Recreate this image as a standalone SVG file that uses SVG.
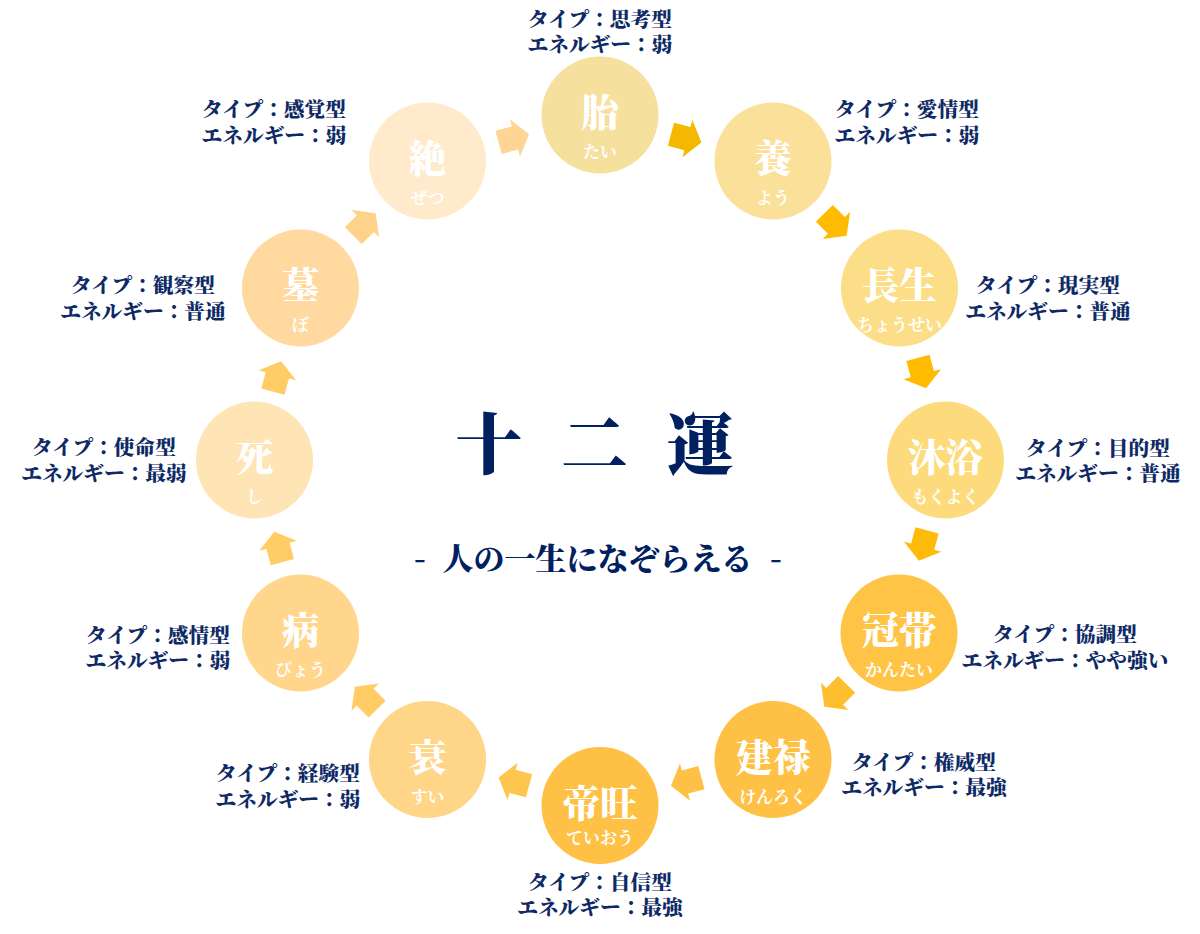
<svg xmlns="http://www.w3.org/2000/svg" width="1200" height="934" viewBox="0 0 1200 934">
<style>
text{font-family:"Noto Serif CJK JP","Noto Sans CJK JP",serif;font-weight:900;text-anchor:middle}
.k{fill:#fff;font-size:37.5px}
.r{fill:#fff;font-size:17px;font-weight:700}
.l{fill:#0e2a66;font-size:20.7px}
.t{fill:#00205f;font-size:67px;letter-spacing:11px}
.s{fill:#00205f;font-size:31px}
</style>
<defs><polygon id="arrow" points="-15.75,-12 1.25,-12 1.25,-19.4 15.75,0 1.25,19.4 1.25,12 -15.75,12"/></defs>
<rect width="1200" height="934" fill="#fff"/>
<g id="connectors">
<use href="#arrow" transform="translate(686.2,138.3) rotate(15)" fill="#f5b800"/>
<use href="#arrow" transform="translate(835.5,224.5) rotate(45)" fill="#ffbb00"/>
<use href="#arrow" transform="translate(922,373) rotate(75)" fill="#ffbb00"/>
<use href="#arrow" transform="translate(923,545.5) rotate(105)" fill="#ffbb0a"/>
<use href="#arrow" transform="translate(835.5,695.5) rotate(135)" fill="#ffbe2e"/>
<use href="#arrow" transform="translate(686.2,781.7) rotate(165)" fill="#ffc145"/>
<use href="#arrow" transform="translate(513.8,781.7) rotate(195)" fill="#ffc64f"/>
<use href="#arrow" transform="translate(366,698) rotate(225)" fill="#ffcc66"/>
<use href="#arrow" transform="translate(278.3,547) rotate(255)" fill="#ffcc66"/>
<use href="#arrow" transform="translate(277,376.5) rotate(285)" fill="#ffcc66"/>
<use href="#arrow" transform="translate(364.5,224.5) rotate(315)" fill="#ffd28a"/>
<use href="#arrow" transform="translate(513.8,138.3) rotate(345)" fill="#ffd596"/>
</g>
<g id="title">
<text class="t" x="600" y="469">十 二 運</text>
<text class="s" y="570"><tspan x="420">-</tspan><tspan x="597.5">人の一生になぞらえる</tspan><tspan x="776">-</tspan></text>
</g>
<g id="tai"><circle cx="600" cy="115" r="58.5" fill="#f6e09d"/><text class="k" x="600" y="126">胎</text><text class="r" x="600" y="158">たい</text><text class="l"><tspan x="600" y="27">タイプ：思考型</tspan><tspan x="600" y="52">エネルギー：弱</tspan></text></g>
<g id="you"><circle cx="773" cy="161" r="58.5" fill="#fbe09a"/><text class="k" x="773" y="172">養</text><text class="r" x="773" y="204">よう</text><text class="l"><tspan x="907" y="117">タイプ：愛情型</tspan><tspan x="907" y="143">エネルギー：弱</tspan></text></g>
<g id="chousei"><circle cx="899.5" cy="288" r="58.5" fill="#fdde88"/><text class="k" x="899.5" y="299">長生</text><text class="r" x="899.5" y="331">ちょうせい</text><text class="l"><tspan x="1048" y="293">タイプ：現実型</tspan><tspan x="1048" y="319">エネルギー：普通</tspan></text></g>
<g id="mokuyoku"><circle cx="945.5" cy="460" r="58.5" fill="#fddb7c"/><text class="k" x="945.5" y="471">沐浴</text><text class="r" x="945.5" y="503">もくよく</text><text class="l"><tspan x="1098" y="456">タイプ：目的型</tspan><tspan x="1098" y="481">エネルギー：普通</tspan></text></g>
<g id="kantai"><circle cx="899" cy="633" r="58.5" fill="#ffc445"/><text class="k" x="899" y="644">冠帯</text><text class="r" x="899" y="676">かんたい</text><text class="l"><tspan x="1065" y="642">タイプ：協調型</tspan><tspan x="1065" y="668">エネルギー：やや強い</tspan></text></g>
<g id="kenroku"><circle cx="773" cy="759.5" r="58.5" fill="#ffc145"/><text class="k" x="773" y="770.5">建禄</text><text class="r" x="773" y="802.5">けんろく</text><text class="l"><tspan x="924" y="770">タイプ：権威型</tspan><tspan x="924" y="795">エネルギー：最強</tspan></text></g>
<g id="teiou"><circle cx="600" cy="805.5" r="58.5" fill="#ffc145"/><text class="k" x="600" y="816.5">帝旺</text><text class="r" x="600" y="844">ていおう</text><text class="l"><tspan x="600" y="890">タイプ：自信型</tspan><tspan x="600" y="915">エネルギー：最強</tspan></text></g>
<g id="sui"><circle cx="427.5" cy="759.5" r="58.5" fill="#ffd588"/><text class="k" x="427.5" y="770.5">衰</text><text class="r" x="427.5" y="802.5">すい</text><text class="l"><tspan x="288" y="781">タイプ：経験型</tspan><tspan x="288" y="807">エネルギー：弱</tspan></text></g>
<g id="byou"><circle cx="300.5" cy="633" r="58.5" fill="#ffd68c"/><text class="k" x="300.5" y="644">病</text><text class="r" x="300.5" y="676">びょう</text><text class="l"><tspan x="158" y="643">タイプ：感情型</tspan><tspan x="158" y="668">エネルギー：弱</tspan></text></g>
<g id="shi"><circle cx="254.5" cy="460" r="58.5" fill="#ffe4b5"/><text class="k" x="254.5" y="471">死</text><text class="r" x="254.5" y="503">し</text><text class="l"><tspan x="104" y="455">タイプ：使命型</tspan><tspan x="104" y="481">エネルギー：最弱</tspan></text></g>
<g id="bo"><circle cx="300.5" cy="288" r="58.5" fill="#ffd9a0"/><text class="k" x="300.5" y="299">墓</text><text class="r" x="300.5" y="331">ぼ</text><text class="l"><tspan x="143" y="293">タイプ：観察型</tspan><tspan x="143" y="319">エネルギー：普通</tspan></text></g>
<g id="zetsu"><circle cx="427.5" cy="161" r="58.5" fill="#ffebcc"/><text class="k" x="427.5" y="172">絶</text><text class="r" x="427.5" y="204">ぜつ</text><text class="l"><tspan x="274" y="117">タイプ：感覚型</tspan><tspan x="274" y="143">エネルギー：弱</tspan></text></g>
</svg>
